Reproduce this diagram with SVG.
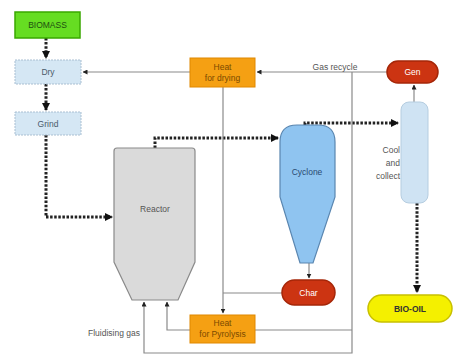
<svg xmlns="http://www.w3.org/2000/svg" width="458" height="358" viewBox="0 0 458 358">
<style>
text{font-family:"Liberation Sans",Arial,sans-serif;font-size:8.5px;text-anchor:middle;dominant-baseline:central}
.thin{fill:none;stroke:#8a8a8a;stroke-width:1.2}
.flow{fill:none;stroke:#222;stroke-width:3;stroke-dasharray:2.5 1.6}
.blue{fill:#d5e7f4;stroke:#a9bfd2;stroke-width:1;stroke-dasharray:2 1}
.heat{fill:#f5a013;stroke:#e08800;stroke-width:1}
.pill{fill:#cc3412;stroke:#a52608;stroke-width:1.5}
</style>
<defs>
<marker id="big" markerWidth="8" markerHeight="8" refX="7" refY="4" orient="auto" markerUnits="userSpaceOnUse"><path d="M0,0 L8,4 L0,8 Z" fill="#111"/></marker>
<marker id="sm" markerWidth="5" markerHeight="5" refX="4.5" refY="2.5" orient="auto" markerUnits="userSpaceOnUse"><path d="M0,0 L5,2.5 L0,5 Z" fill="#222"/></marker>
</defs>
<rect width="458" height="358" fill="#fff"/>
<g id="connectors">
<path class="flow" d="M46,38 V58" marker-end="url(#big)"/>
<path class="flow" d="M46,84 V110" marker-end="url(#big)"/>
<path class="flow" d="M46,135 V217 H112" marker-end="url(#big)"/>
<path class="flow" d="M155,148 V138 H278" marker-end="url(#big)"/>
<path class="flow" d="M305,125 V123 H398" marker-end="url(#big)"/>
<path class="flow" d="M417,203 V292" marker-end="url(#big)"/>
<path class="thin" d="M190,72 H83" marker-end="url(#sm)"/>
<path class="thin" d="M387,72 H257" marker-end="url(#sm)"/>
<path class="thin" d="M352,72 V353 H144 V302" marker-end="url(#sm)"/>
<path class="thin" d="M352,330 H255"/>
<path class="thin" d="M190,330 H167 V302" marker-end="url(#sm)"/>
<path class="thin" d="M223,87 V313" marker-end="url(#sm)"/>
<path class="thin" d="M282,293 H223"/>
<path class="thin" d="M309,263 V278" marker-end="url(#sm)"/>
<path class="thin" d="M414,102 V85" marker-end="url(#sm)"/>
<text x="335" y="67" fill="#555">Gas recycle</text>
<text x="140" y="333" fill="#555" style="text-anchor:end">Fluidising gas</text>
</g>
<g id="biomass"><rect x="15" y="12" width="65" height="26" fill="#66dd22" stroke="#3aa800" stroke-width="1.5"/><text x="47.5" y="25" fill="#205010">BIOMASS</text></g>
<g id="dry"><rect class="blue" x="15" y="60" width="66" height="24"/><text x="48" y="72" fill="#4a5a6a">Dry</text></g>
<g id="grind"><rect class="blue" x="15" y="112" width="66" height="23"/><text x="48" y="123.5" fill="#4a5a6a">Grind</text></g>
<g id="reactor"><path d="M117,148 H192 Q195,148 195,151 V262 L178,300 H132 L114,262 V151 Q114,148 117,148 Z" fill="#dadada" stroke="#8a8a8a" stroke-width="1.2"/><text x="155" y="209" fill="#555">Reactor</text></g>
<g id="heat-drying"><rect class="heat" x="190" y="58" width="65" height="29"/><text x="222.5" y="67" fill="#7a4a00">Heat</text><text x="222.5" y="78" fill="#7a4a00">for drying</text></g>
<g id="heat-pyrolysis"><rect class="heat" x="190" y="315" width="65" height="28"/><text x="222.5" y="323" fill="#7a4a00">Heat</text><text x="222.5" y="334" fill="#7a4a00">for Pyrolysis</text></g>
<g id="cyclone"><path d="M280,197 V142 Q280,125 297,125 H318 Q335,125 335,142 V197 L313,263 H300 Z" fill="#8fc4f0" stroke="#5a86b0" stroke-width="1.2"/><text x="307" y="172" fill="#2a4a70">Cyclone</text></g>
<g id="char"><rect class="pill" x="282" y="280" width="53" height="25" rx="12.5"/><text x="308.5" y="292.5" fill="#fff">Char</text></g>
<g id="gen"><rect class="pill" x="387" y="61" width="51" height="22" rx="11"/><text x="412.5" y="72" fill="#fff">Gen</text></g>
<g id="cooler"><text x="400" y="150" fill="#555" style="text-anchor:end">Cool</text><text x="400" y="163" fill="#555" style="text-anchor:end">and</text><text x="400" y="176" fill="#555" style="text-anchor:end">collect</text><rect x="401" y="102" width="27" height="101" rx="8" fill="#cfe3f3" stroke="#b5cde0" stroke-width="1"/></g>
<g id="bio-oil"><rect x="368" y="295" width="84" height="27" rx="13.5" fill="#f4f000" stroke="#c8c000" stroke-width="1.5"/><text x="410" y="308.5" fill="#333" font-weight="bold">BIO-OIL</text></g>
</svg>
